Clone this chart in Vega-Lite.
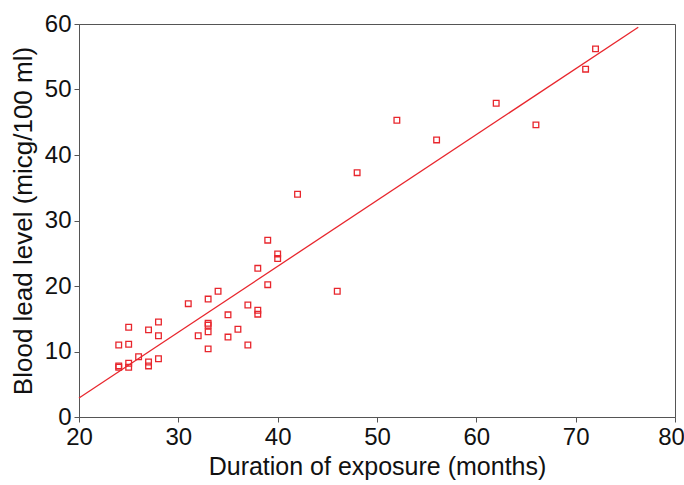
{
  "$schema": "https://vega.github.io/schema/vega-lite/v6.json",
  "width": 596,
  "height": 393,
  "autosize": {"type": "none"},
  "padding": {"left": 79, "top": 24, "right": 9, "bottom": 68},
  "background": "white",
  "config": {
    "view": {"stroke": "#555555", "strokeWidth": 1},
    "font": "Liberation Sans",
    "axis": {
      "grid": false,
      "domainColor": "#555555",
      "tickColor": "#555555",
      "labelColor": "#111111",
      "titleColor": "#111111",
      "labelFont": "Liberation Sans",
      "titleFont": "Liberation Sans",
      "labelFontSize": 24,
      "titleFontSize": 25,
      "titleFontWeight": "normal",
      "labelFlush": false,
      "labelOverlap": false,
      "tickSize": 5
    }
  },
  "datasets": {
    "pts": [
      {"months": 24, "lead": 11.0}, {"months": 24, "lead": 7.8}, {"months": 24, "lead": 7.6},
      {"months": 25, "lead": 13.7}, {"months": 25, "lead": 11.1}, {"months": 25, "lead": 8.2}, {"months": 25, "lead": 7.6},
      {"months": 26, "lead": 9.2},
      {"months": 27, "lead": 13.3}, {"months": 27, "lead": 8.4}, {"months": 27, "lead": 7.8},
      {"months": 28, "lead": 14.5}, {"months": 28, "lead": 12.4}, {"months": 28, "lead": 8.9},
      {"months": 31, "lead": 17.3},
      {"months": 32, "lead": 12.4},
      {"months": 33, "lead": 18.0}, {"months": 33, "lead": 14.3}, {"months": 33, "lead": 14.0}, {"months": 33, "lead": 13.0}, {"months": 33, "lead": 10.4},
      {"months": 34, "lead": 19.2},
      {"months": 35, "lead": 15.6}, {"months": 35, "lead": 12.2},
      {"months": 36, "lead": 13.4},
      {"months": 37, "lead": 17.1}, {"months": 37, "lead": 11.0},
      {"months": 38, "lead": 22.7}, {"months": 38, "lead": 16.3}, {"months": 38, "lead": 15.7},
      {"months": 39, "lead": 27.0}, {"months": 39, "lead": 20.2},
      {"months": 40, "lead": 24.9}, {"months": 40, "lead": 24.2},
      {"months": 42, "lead": 34.0},
      {"months": 46, "lead": 19.2},
      {"months": 48, "lead": 37.3},
      {"months": 52, "lead": 45.3},
      {"months": 56, "lead": 42.3},
      {"months": 62, "lead": 47.9},
      {"months": 66, "lead": 44.6},
      {"months": 71, "lead": 53.1},
      {"months": 72, "lead": 56.2}
    ],
    "fit": [
      {"months": 20, "lead": 2.9},
      {"months": 76.3, "lead": 59.5}
    ]
  },
  "layer": [
    {
      "data": {"name": "fit"},
      "mark": {"type": "line", "color": "#e8262d", "strokeWidth": 1.3},
      "encoding": {
        "x": {"field": "months", "type": "quantitative"},
        "y": {"field": "lead", "type": "quantitative"}
      }
    },
    {
      "data": {"name": "pts"},
      "mark": {"type": "point", "shape": "square", "filled": false, "color": "#e8262d", "size": 32, "strokeWidth": 1.3, "opacity": 1},
      "encoding": {
        "x": {
          "field": "months", "type": "quantitative",
          "scale": {"domain": [20, 80], "nice": false, "zero": false},
          "axis": {
            "title": "Duration of exposure (months)",
            "values": [20, 30, 40, 50, 60, 70, 80],
            "labelPadding": 3,
            "titlePadding": 5,
            "labelOffset": {"condition": {"test": "datum.value == 80", "value": -4}, "value": 0}
          }
        },
        "y": {
          "field": "lead", "type": "quantitative",
          "scale": {"domain": [0, 60], "nice": false},
          "axis": {"title": "Blood lead level (micg/100 ml)", "titleFontSize": 26, "values": [0, 10, 20, 30, 40, 50, 60], "labelPadding": 3, "titlePadding": 8}
        }
      }
    }
  ]
}
